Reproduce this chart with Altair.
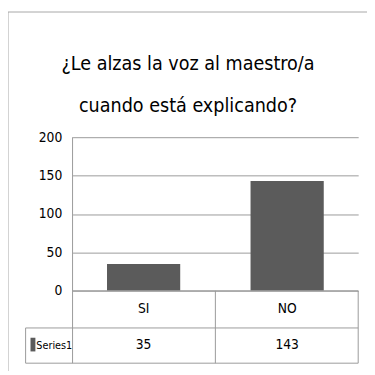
import altair as alt
import pandas as pd

CATEGORIES = ["SI", "NO"]
VALUES = [35, 143]
SERIES = ["Series1"]
TITLE_LINES = ["¿Le alzas la voz al maestro/a", "cuando está explicando?"]
Y_TICKS = [0, 50, 100, 150, 200]

FONT = "'DejaVu Sans Condensed', 'Roboto Condensed', 'Open Sans Condensed', 'Liberation Sans'"
BAR = "#5b5b5b"
LINE = "#9a9a9a"

W, H = 292, 231
Y_RANGE = 157

df = pd.DataFrame({"cat": CATEGORIES, "val": VALUES})
one = pd.DataFrame({"series": SERIES})

xs = alt.Scale(domain=CATEGORIES, paddingInner=0.49, paddingOuter=0.24)
ys = alt.Scale(domain=[0, 200], range=[Y_RANGE, 0])


def hrule(y, x1, x2, color=LINE):
    return alt.Chart(one).mark_rule(color=color, strokeWidth=1).encode(
        y=alt.value(y), x=alt.value(x1), x2=alt.value(x2))


def vrule(x, y1, y2, color=LINE):
    return alt.Chart(one).mark_rule(color=color, strokeWidth=1).encode(
        x=alt.value(x), y=alt.value(y1), y2=alt.value(y2))


bars = alt.Chart(df).mark_bar(color=BAR).encode(
    x=alt.X("cat:N", scale=xs, axis=None, sort=CATEGORIES),
    y=alt.Y("val:Q", scale=ys, axis=alt.Axis(
        values=Y_TICKS, grid=True, domain=False, ticks=False, title=None,
        labelPadding=11, labelFont=FONT, labelFontSize=14, labelColor="#000",
        gridColor=LINE, gridWidth=1)),
)

cat_text = alt.Chart(df).mark_text(font=FONT, fontSize=14, color="#000", baseline="middle").encode(
    x=alt.X("cat:N", scale=xs, axis=None, sort=CATEGORIES),
    y=alt.value(176),
    text="cat:N",
)
val_text = alt.Chart(df).mark_text(font=FONT, fontSize=14, color="#000", baseline="middle").encode(
    x=alt.X("cat:N", scale=xs, axis=None, sort=CATEGORIES),
    y=alt.value(213),
    text="val:Q",
)

legend_box = alt.Chart(one).mark_rect(color=BAR).encode(
    x=alt.value(-43), x2=alt.value(-38), y=alt.value(205), y2=alt.value(219))
legend_text = alt.Chart(one).mark_text(font=FONT, fontSize=11, color="#000", align="left", baseline="middle").encode(
    x=alt.value(-37), y=alt.value(213), text="series:N")

title = alt.Chart(one).mark_text(
    text=TITLE_LINES, font=FONT, fontSize=20, color="#000", align="center",
    baseline="alphabetic", lineHeight=43).encode(
    x=alt.value(118), y=alt.value(-69))

lines = [
    hrule(-128, -66, 301, "#a6a6a6"),
    vrule(-66, -128, 239, "#a6a6a6"),
    vrule(0, 0, H),
    hrule(195, -48, W),
    hrule(H, -48, W),
    vrule(-48, 195, H),
    vrule(146, Y_RANGE, H),
    vrule(W, Y_RANGE, H),
]

chart = alt.layer(bars, *lines, hrule(Y_RANGE, 0, W), cat_text, val_text, legend_box, legend_text, title).properties(
    width=W, height=H,
    autosize=alt.AutoSizeParams(type="none"),
    padding={"left": 66, "top": 128, "right": 9, "bottom": 8},
).configure_view(stroke=None)

chart.save("out.html", embed_options={"renderer": "svg", "actions": False})
